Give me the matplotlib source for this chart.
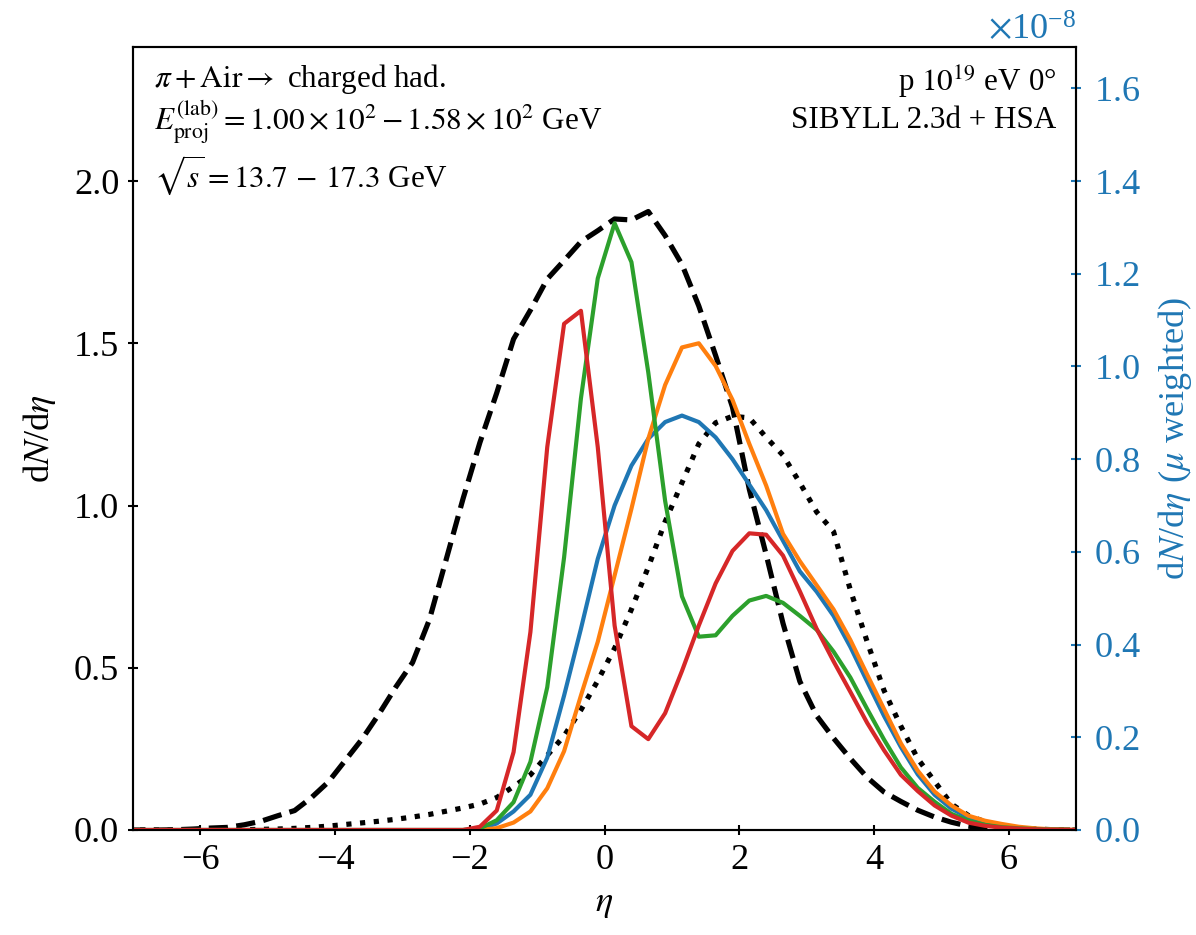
import numpy as np
import matplotlib
matplotlib.use("Agg")
import matplotlib.pyplot as plt
from matplotlib.ticker import ScalarFormatter

plt.rcParams['font.family'] = 'serif'
plt.rcParams['font.serif'] = ['Liberation Serif', 'DejaVu Serif']
plt.rcParams['mathtext.fontset'] = 'stix'
plt.rcParams['axes.unicode_minus'] = True

# pseudorapidity bin centres
eta = np.arange(-7.1, 7.2, 0.25)

# dN/deta (left axis)
total_dashed = [0, 0, 0, 0.001, 0.003, 0.006, 0.008, 0.016, 0.027, 0.044,
                0.060, 0.100, 0.148, 0.214, 0.280, 0.357, 0.440, 0.516, 0.648, 0.834,
                1.021, 1.194, 1.347, 1.513, 1.602, 1.698, 1.755, 1.813, 1.847, 1.883,
                1.880, 1.906, 1.832, 1.743, 1.615, 1.462, 1.303, 1.050, 0.849, 0.637,
                0.458, 0.352, 0.283, 0.220, 0.162, 0.117, 0.088, 0.061, 0.040, 0.024,
                0.012, 0.005, 0.002, 0.001, 0, 0, 0, 0]
total_dotted = [0, 0, 0, 0, 0, 0, 0, 0.001, 0.002, 0.003,
                0.005, 0.008, 0.012, 0.017, 0.022, 0.027, 0.033, 0.040, 0.048, 0.058,
                0.068, 0.080, 0.100, 0.134, 0.170, 0.230, 0.290, 0.370, 0.460, 0.560,
                0.680, 0.810, 0.950, 1.070, 1.190, 1.255, 1.275, 1.270, 1.210, 1.155,
                1.070, 0.980, 0.920, 0.740, 0.580, 0.430, 0.320, 0.220, 0.150, 0.080,
                0.045, 0.025, 0.012, 0.006, 0.003, 0.001, 0, 0]

# mu-weighted dN/deta (right axis, units of 1e-8)
zeros20 = [0] * 20
mu_blue = zeros20 + [0, 0.002, 0.014, 0.040, 0.076, 0.156, 0.290, 0.434, 0.585, 0.700,
                     0.786, 0.844, 0.880, 0.894, 0.880, 0.847, 0.800, 0.745, 0.690, 0.624,
                     0.558, 0.514, 0.462, 0.395, 0.320, 0.246, 0.179, 0.120, 0.076, 0.046,
                     0.027, 0.016, 0.009, 0.004, 0.002, 0.0007, 0, 0]
mu_orange = zeros20 + [0, 0, 0.004, 0.016, 0.040, 0.090, 0.170, 0.290, 0.406, 0.549,
                       0.693, 0.844, 0.960, 1.041, 1.050, 1.001, 0.928, 0.833, 0.743, 0.639,
                       0.580, 0.528, 0.476, 0.410, 0.335, 0.261, 0.187, 0.128, 0.083, 0.053,
                       0.031, 0.020, 0.013, 0.007, 0.0035, 0.0014, 0.0007, 0]
mu_green = zeros20 + [0, 0.0035, 0.021, 0.060, 0.147, 0.308, 0.588, 0.931, 1.190, 1.309,
                      1.225, 0.987, 0.710, 0.504, 0.417, 0.420, 0.462, 0.495, 0.505, 0.490,
                      0.462, 0.432, 0.385, 0.329, 0.261, 0.195, 0.135, 0.091, 0.061, 0.035,
                      0.020, 0.011, 0.006, 0.0035, 0.002, 0.0007, 0, 0]
mu_red = zeros20 + [0, 0.007, 0.042, 0.168, 0.427, 0.826, 1.092, 1.120, 0.826, 0.441,
                    0.224, 0.196, 0.252, 0.343, 0.441, 0.532, 0.602, 0.640, 0.637, 0.592,
                    0.515, 0.434, 0.364, 0.298, 0.231, 0.172, 0.119, 0.084, 0.053, 0.031,
                    0.016, 0.009, 0.005, 0.003, 0.0014, 0.0007, 0, 0]
scale_right = 1e-8

W, H, DPI = 1196, 935, 187
fig = plt.figure(figsize=(W / DPI, H / DPI), dpi=DPI)
ax = fig.add_axes([133 / W, 1 - 830 / H, (1076 - 133) / W, (830 - 47) / H])
ax2 = ax.twinx()

ax.plot(eta, total_dashed, color='black', ls='--', lw=2.0)
ax.plot(eta, total_dotted, color='black', ls=':', lw=2.0)

for vals, col in [(mu_blue, '#1f77b4'), (mu_orange, '#ff7f0e'),
                  (mu_green, '#2ca02c'), (mu_red, '#d62728')]:
    ax2.plot(eta, np.array(vals) * scale_right, color=col, lw=1.6)

ax.set_xlim(-7, 7)
ax.set_ylim(0, 2.413)
ax2.set_ylim(0, 2.413 * 0.7 * scale_right)

ax.set_xticks([-6, -4, -2, 0, 2, 4, 6])
ax.set_yticks([0, 0.5, 1.0, 1.5, 2.0])
fmt = ScalarFormatter(useMathText=True)
ax2.yaxis.set_major_formatter(fmt)
ax2.set_yticks(np.array([0, 0.2, 0.4, 0.6, 0.8, 1.0, 1.2, 1.4, 1.6]) * scale_right)

ax.tick_params(direction='inout', labelsize=14, length=3.5)
ax2.tick_params(direction='inout', labelsize=14, length=3.5, colors='#1f77b4', pad=5)
ax2.yaxis.get_offset_text().set_fontsize(14)
ax2.yaxis.get_offset_text().set_color('#1f77b4')

ax.set_xlabel(r'$\eta$', fontsize=14)
ax.set_ylabel(r'd$N$/d$\eta$', fontsize=14, labelpad=6)
ax2.set_ylabel(r'd$N$/d$\eta$ ($\mu$ weighted)', fontsize=14, color='#1f77b4', labelpad=6)

tkw = dict(transform=ax.transAxes, fontsize=12)
ax.text(0.022, 0.949, r'$\pi + \mathrm{Air} \rightarrow$ charged had.', va='baseline', **tkw)
ax.text(0.022, 0.893, r'$E_{\mathrm{proj}}^{(\mathrm{lab})} = 1.00\times10^{2} - 1.58\times10^{2}$ GeV',
        va='baseline', **tkw)
ax.text(0.022, 0.8216, r'$\sqrt{s} = 13.7\,-\,17.3$ GeV', va='baseline', **tkw)
ax.text(0.979, 0.9425, 'p $10^{19}$ eV 0\u00b0', ha='right', va='baseline', **tkw)
ax.text(0.979, 0.8962, 'SIBYLL 2.3d + HSA', ha='right', va='baseline', **tkw)

fig.savefig('out.png', dpi=DPI)
